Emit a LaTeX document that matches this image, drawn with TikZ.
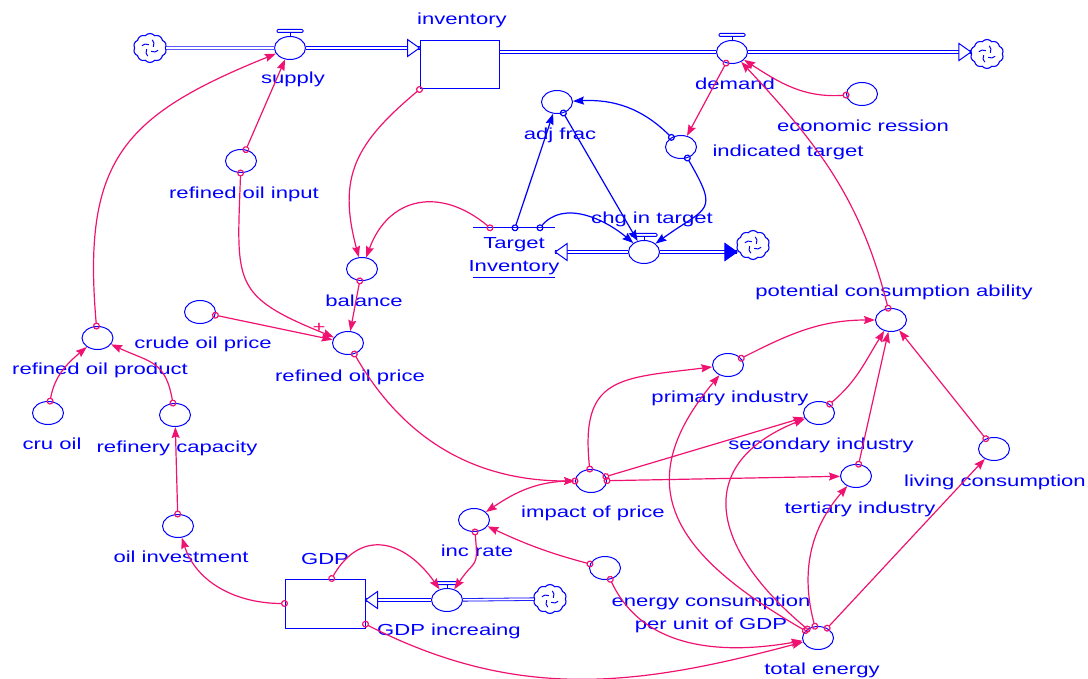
\documentclass[tikz,border=0pt]{standalone}
\usepackage{fontspec}
\setmainfont[FakeStretch=1.38]{Liberation Sans}
\usetikzlibrary{arrows.meta}
\usetikzlibrary{shapes.geometric,shapes.symbols}
\usetikzlibrary{positioning}
\definecolor{vblue}{RGB}{0,0,255}
\definecolor{vpink}{RGB}{240,18,112}

\begin{document}
\begin{tikzpicture}[x=1pt,y=1pt,
  aux/.style={ellipse,draw=vblue,fill=white,line width=1pt,minimum width=31pt,minimum height=23pt,inner sep=0pt},
  valve/.style={aux},
  stock/.style={rectangle,draw=vblue,fill=white,line width=1pt,minimum width=80pt,minimum height=48pt,inner sep=0pt},
  sink/.style={cloud,cloud puffs=10,cloud puff arc=100,aspect=1.1,draw=vblue,fill=white,line width=1.1pt,minimum width=33pt,minimum height=29pt,inner sep=0pt},
  lbl/.style={text=vblue,font=\fontsize{16}{23}\selectfont,inner sep=0pt,align=center,text height=11.5pt,text depth=3.4pt},
  pipe/.style={draw=vblue,double=white,double distance=1.8pt,line width=0.8pt},
  link/.style={draw=vpink,line width=1.2pt,shorten <=-3.5pt,{Circle[open,length=7pt,width=7pt]}-{Stealth[length=11pt,width=8pt,inset=1.5pt]}},
  blink/.style={link,draw=vblue},
  pics/flowtip/.style={code={\draw[draw=vblue,line width=1pt,fill=#1] (0,0) -- (-12,8.5) -- (-12,-8.5) -- cycle;}},
]
\useasboundingbox (0,0) rectangle (1088,-679);

% stocks, valves and clouds
\node[sink] (cl) at (150,-48) {};
\node[valve] (supply) at (290,-48) {};
\node[stock,minimum width=79pt] (inv) at (459.5,-65) {};
\node[valve] (demand) at (732,-52) {};
\node[sink] (cr) at (987,-54) {};
\node[valve] (chg) at (644,-252) {};
\node[sink] (cr2) at (753,-245) {};
\node[rectangle,minimum width=82pt,minimum height=49pt,inner sep=0pt] (ti) at (514,-252.5) {};
\node[stock,minimum height=49pt] (gdp) at (325,-603.5) {};
\node[valve] (gdpinc) at (447,-600) {};
\node[sink] (cg) at (550,-599) {};

% auxiliaries
\node[aux] (econ) at (862,-94) {};
\node[aux] (adj) at (557,-102) {};
\node[aux] (ind) at (681,-147) {};
\node[aux] (bal) at (362,-269) {};
\node[aux] (roi) at (241,-161) {};
\node[aux] (cop) at (200,-312) {};
\node[aux] (rpr) at (348,-343) {};
\node[aux] (rop) at (97.5,-338) {};
\node[aux] (cru) at (48,-413) {};
\node[aux] (refcap) at (175,-415) {};
\node[aux] (oilinv) at (178,-526) {};
\node[aux] (inc) at (474,-520) {};
\node[aux] (imp) at (591,-481) {};
\node[aux] (ecpu) at (605,-568) {};
\node[aux] (te) at (818,-638) {};
\node[aux] (pi) at (728,-365) {};
\node[aux] (si) at (819,-413) {};
\node[aux] (tri) at (856,-476) {};
\node[aux] (lc) at (994,-449) {};
\node[aux] (pca) at (891,-320) {};

% valve tops and cloud swirls
\foreach \v in {supply,demand,chg,gdpinc} {
  \draw[vblue,line width=1pt] (\v.north) -- ++(0,3.5);
  \draw[vblue,line width=1pt,fill=white,rounded corners=1pt] ([xshift=-13pt,yshift=3.5pt]\v.north) rectangle ([xshift=13pt,yshift=6.5pt]\v.north);
}
\foreach \c in {cl,cr,cr2,cg}
  \foreach \a in {20,110,200,290}
    \draw[vblue,line width=1pt] ([shift={(\a:3.5)}]\c.center) to[bend right=35] ([shift={(\a+55:8.5)}]\c.center);

% pipes
\draw[pipe] (cl) -- (supply);
\draw[pipe] (supply) -- (supply -| inv.west);
\pic at (supply -| inv.west) {flowtip=white};
\draw[pipe] (inv.east |- demand) -- (demand);
\draw[pipe] (demand) -- (demand -| cr.west);
\pic at (demand -| cr.west) {flowtip=white};
\draw[pipe] (chg) -- (chg -| ti.east);
\pic[rotate=180] at (chg -| ti.east) {flowtip=white};
\draw[pipe] (chg) -- (chg -| cr2.west);
\pic at (chg -| cr2.west) {flowtip=vblue};
\draw[pipe] (gdpinc) -- (cg);
\draw[pipe] (gdpinc) -- (gdpinc -| gdp.east);
\pic[rotate=180] at (gdpinc -| gdp.east) {flowtip=white};

% Target Inventory
\draw[vblue,line width=1pt] (ti.north west) -- (ti.north east);
\draw[vblue,line width=1pt] (ti.south west) -- (ti.south east);
\coordinate (ti1) at ([xshift=-24pt]ti.north);
\coordinate (ti2) at ([xshift=1pt]ti.north);
\coordinate (ti3) at ([xshift=26pt]ti.north);

% labels
\node[lbl] (t-supply) at (293,-79) {supply};
\node[lbl] (t-inv) at (462,-20) {inventory};
\node[lbl] (t-demand) at (735,-85) {demand};
\node[lbl] (t-econ) at (863,-127) {economic ression};
\node[lbl] (t-adj) at (560,-135) {adj frac};
\node[lbl] (t-ind) at (788,-152) {indicated target};
\node[lbl] (t-chg) at (652,-219) {chg in target};
\node[lbl] (t-ti) at (514,-267) {Target\\Inventory};
\node[lbl] (t-bal) at (364,-302) {balance};
\node[lbl] (t-roi) at (244,-194) {refined oil input};
\node[lbl] (t-cop) at (203,-344) {crude oil price};
\node[lbl] (t-rpr) at (350,-377) {refined oil price};
\node[lbl] (t-rop) at (100,-370) {refined oil product};
\node[lbl] (t-cru) at (52,-445) {cru oil};
\node[lbl] (t-refcap) at (177,-448) {refinery capacity};
\node[lbl] (t-oilinv) at (181,-558) {oil investment};
\node[lbl] (t-gdp) at (325,-560) {GDP};
\node[lbl] (t-gdpinc) at (449,-631) {GDP increaing};
\node[lbl] (t-inc) at (477,-552) {inc rate};
\node[lbl] (t-imp) at (593,-513) {impact of price};
\node[lbl] (t-ecpu) at (711,-625) {energy consumption\\per unit of GDP};
\node[lbl] (t-te) at (822,-670) {total energy};
\node[lbl] (t-pi) at (730,-398) {primary industry};
\node[lbl] (t-si) at (821,-445) {secondary industry};
\node[lbl] (t-tri) at (860,-509) {tertiary industry};
\node[lbl] (t-lc) at (995,-482) {living consumption};
\node[lbl] (t-pca) at (894,-292) {potential consumption ability};
\node[text=vpink,font=\fontsize{16}{16}\selectfont,inner sep=0pt] (plus) at (319,-328) {+};

% links
\draw[link] (rop) to[out=95,in=202,looseness=1.3] (supply);
\draw[link] (roi) -- (supply);
\draw[link] (inv.south west) to[out=220,in=105,looseness=1.2] (bal);
\draw[link] (ti1) to[out=140,in=70,looseness=1.3] (bal);
\draw[link] (bal) -- (rpr);
\draw[link] (roi) to[out=268,in=158,looseness=1.5] (rpr);
\draw[link] (cop) -- (rpr);
\draw[link] (rpr) to[out=-60,in=180] (imp);
\draw[link] (demand) -- (ind);
\draw[link] (econ) to[out=184,in=-33] (demand);
\draw[link] (pca) to[out=104,in=-47] (demand);
\draw[link] (imp) to[out=96,in=187,looseness=1.5] (pi);
\draw[link] (imp) -- (si);
\draw[link] (imp) -- (tri);
\draw[link] (imp) to[out=180,in=34] (inc);
\draw[link] (ecpu) to[out=165,in=-25] (inc);
\draw[link] (inc) to[out=-85,in=56,looseness=1.6] (gdpinc);
\draw[link] (gdp.75) to[out=60,in=125,looseness=1.4] (gdpinc);
\draw[link] (gdp.west) to[out=180,in=-72] (oilinv);
\draw[link] (oilinv) -- (refcap);
\draw[link] (refcap) to[out=100,in=-25,looseness=1.3] (rop);
\draw[link] (cru) to[out=80,in=220] (rop);
\draw[link] (gdp.-27) to[out=-27,in=195] (te);
\draw[link] (ecpu) to[out=-65,in=190] (te);
\draw[link] (te) to[out=150,in=230,looseness=1.4] (pi);
\draw[link] (te) to[out=140,in=202,looseness=1.5] (si);
\draw[link] (te) to[out=105,in=229] (tri);
\draw[link] (te) -- (lc);
\draw[link] (pi) to[out=27,in=180] (pca);
\draw[link] (si) to[out=40,in=-122] (pca);
\draw[link] (tri) -- (pca);
\draw[link] (lc) -- (pca);
\draw[blink] (ti2) -- (adj);
\draw[blink] (adj) -- (chg);
\draw[blink] (ind) to[out=135,in=3] (adj);
\draw[blink] (ind) to[out=-60,in=36,looseness=1.8] (chg);
\draw[blink] (ti3) to[out=50,in=140] (chg);
\end{tikzpicture}
\end{document}
